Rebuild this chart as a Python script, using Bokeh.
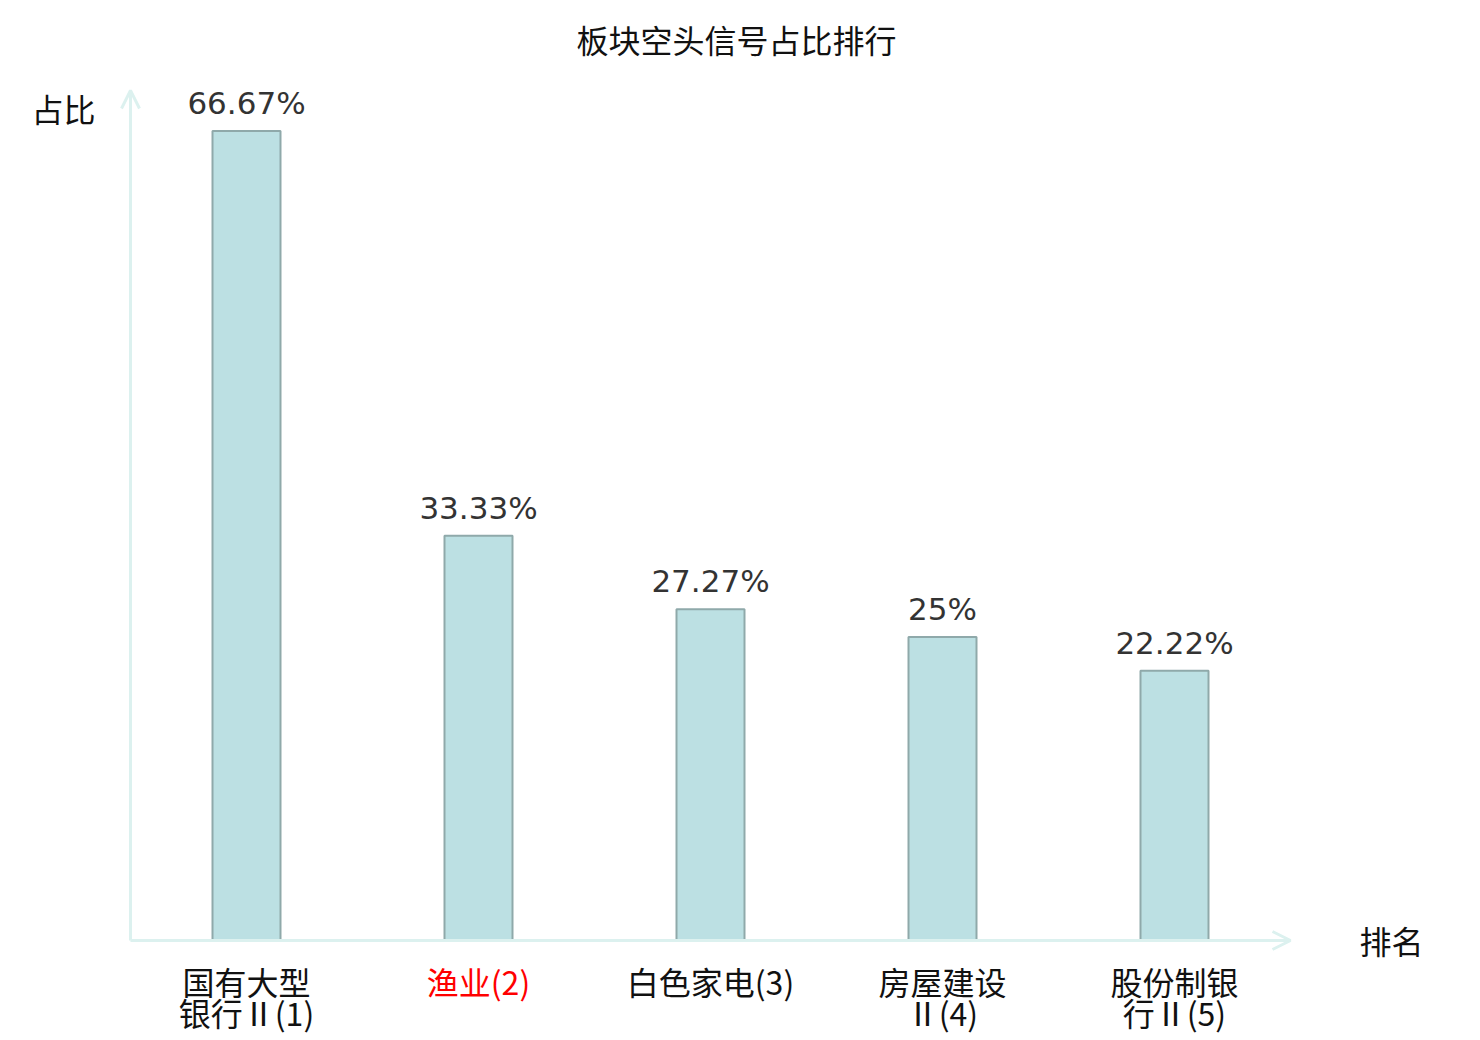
from bokeh.plotting import figure
from bokeh.models import Range1d, ColumnDataSource, Arrow, OpenHead
from bokeh.core.properties import value
from bokeh.embed import file_html
from bokeh.resources import INLINE

# ---- data ----
title_text = "板块空头信号占比排行"
categories = ["国有大型\n银行Ⅱ(1)", "渔业(2)", "白色家电(3)", "房屋建设\nⅡ(4)", "股份制银\n行Ⅱ(5)"]
label_colors = ["#111111", "#ff0000", "#111111", "#111111", "#111111"]
shares = [66.67, 33.33, 27.27, 25.0, 22.22]
share_labels = ["66.67%", "33.33%", "27.27%", "25%", "22.22%"]
y_name = "占比"
x_name = "排名"
y_max = 70

CJK = "Noto Sans CJK SC"
AXIS_COLOR = "#dcf1ef"

W, H = 1472, 1040
TOP = 66
# data mapping: page_x = 130 + (x+0.5)*232 ; page_y = 940 - y*px_per_y
px_per_x = 232.0
px_per_y = 850.0 / y_max
x0_page = 130.0
y0_page = 940.0
x_start = -0.5 - x0_page / px_per_x
x_end = -0.5 + (W - x0_page) / px_per_x
y_end = (y0_page - TOP) / px_per_y
y_start = -(H - y0_page) / px_per_y

p = figure(width=W, height=H, output_backend="svg", toolbar_location=None,
           x_axis_type=None, y_axis_type=None,
           x_range=Range1d(x_start, x_end), y_range=Range1d(y_start, y_end),
           min_border_left=0, min_border_right=0, min_border_top=TOP, min_border_bottom=0,
           title=title_text)
p.outline_line_color = None
p.grid.visible = False
p.background_fill_color = "white"
p.border_fill_color = "white"

p.title.align = "center"
p.title.text_font = CJK
p.title.text_font_size = "32px"
p.title.text_font_style = "normal"
p.title.text_color = "#111111"

xs = list(range(len(categories)))
src = ColumnDataSource(dict(x=xs, top=shares, cat=categories, col=label_colors, lab=share_labels))

# axes with arrows
p.add_layout(Arrow(end=OpenHead(size=18, line_color=AXIS_COLOR, line_width=3),
                   x_start=-0.5, y_start=0, x_end=len(categories) - 0.5, y_end=0,
                   line_color=AXIS_COLOR, line_width=3))
p.add_layout(Arrow(end=OpenHead(size=18, line_color=AXIS_COLOR, line_width=3),
                   x_start=-0.5, y_start=0, x_end=-0.5, y_end=y_max,
                   line_color=AXIS_COLOR, line_width=3))

p.vbar(x="x", top="top", bottom=0, width=68 / 232, source=src,
       fill_color="#bce0e3", line_color="#8fa9aa", line_width=2)

p.text(x="x", y="top", text="lab", source=src, text_font=value("DejaVu Sans"),
       text_font_size="31px", text_color="#333333", text_align="center",
       text_baseline="alphabetic", y_offset=-28)

p.text(x="x", y=0, text="cat", source=src, text_font=value(CJK),
       text_font_size="32px", text_color="col", text_align="center",
       text_baseline="top", y_offset=17, text_line_height=0.69)

p.text(x=[-0.5], y=[y_max], text=[y_name], text_font=value(CJK), text_font_size="32px",
       text_color="#111111", text_align="center", text_baseline="middle",
       x_offset=-67, y_offset=17)
p.text(x=[len(categories) - 0.5], y=[0], text=[x_name], text_font=value(CJK),
       text_font_size="32px", text_color="#111111", text_align="center",
       text_baseline="middle", x_offset=101, y_offset=-1)

open("out.html", "w").write(file_html(p, INLINE))
